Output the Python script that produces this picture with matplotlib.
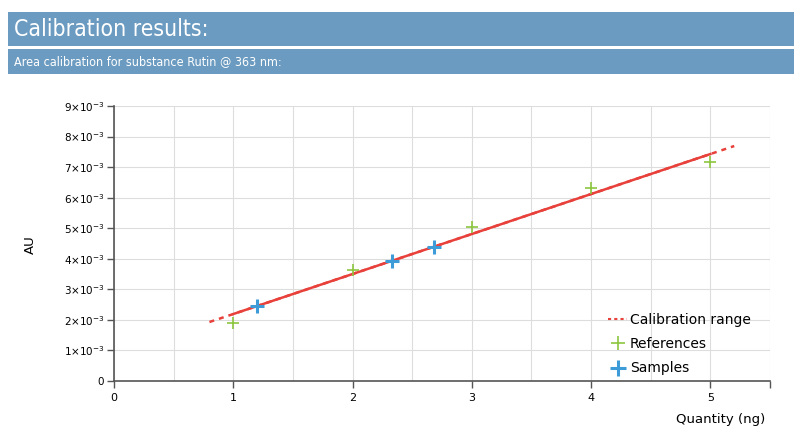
import matplotlib
matplotlib.use("Agg")
import matplotlib.pyplot as plt
from matplotlib.patches import Rectangle
from matplotlib.ticker import MultipleLocator
import numpy as np

# Data
ref_x = [1, 2, 3, 4, 5]
ref_y = [1.90e-3, 3.63e-3, 5.04e-3, 6.32e-3, 7.17e-3]
sample_x = [1.2, 2.33, 2.68]
sample_y = [2.45e-3, 3.93e-3, 4.39e-3]
cal_slope = 1.309e-3
cal_intercept = 0.883e-3
cal_ext = [0.8, 5.2]      # extrapolated range
cal_core = [1.0, 5.0]     # calibration range
y_ticks = [0, 1e-3, 2e-3, 3e-3, 4e-3, 5e-3, 6e-3, 7e-3, 8e-3, 9e-3]
y_labels = ["0"] + [f"{i}×10$^{{-3}}$" for i in range(1, 10)]
x_ticks = [0, 1, 2, 3, 4, 5]

W, H = 794, 430
fig = plt.figure(figsize=(W/100, H/100), dpi=100)
plt.rcParams['font.family'] = ['DejaVu Sans']

hdr = "#6b9bc0"
fig.patches.append(Rectangle((8/W, 1 - 46/H), 1 - 8/W, 34/H, transform=fig.transFigure,
                             facecolor=hdr, edgecolor='none', zorder=0))
fig.patches.append(Rectangle((8/W, 1 - 74/H), 1 - 8/W, 25/H, transform=fig.transFigure,
                             facecolor=hdr, edgecolor='none', zorder=0))
fig.text(14/W, 1 - 30/H, "Calibration results:", color='white', fontsize=16.5,
         fontstretch='condensed', va='center')
fig.text(14/W, 1 - 62/H, "Area calibration for substance Rutin @ 363 nm:", color='white',
         fontsize=9, fontstretch='condensed', va='center')

ax = fig.add_axes([114/W, 1 - 381/H, (770-114)/W, (381-106)/H])
ax.set_xlim(0, 5.5)
ax.set_ylim(0, 9e-3)

ax.xaxis.set_minor_locator(MultipleLocator(0.5))
ax.grid(True, which='both', axis='x', color='#dddddd', lw=0.8)
ax.grid(True, which='major', axis='y', color='#dddddd', lw=0.8)
ax.set_axisbelow(True)

xe = np.array(cal_ext)
ax.plot(xe, cal_intercept + cal_slope*xe, color='#e8403a', lw=1.8, ls=(0, (2, 2)), zorder=3)
xc = np.array(cal_core)
ax.plot(xc, cal_intercept + cal_slope*xc, color='#e8403a', lw=1.8, zorder=3)
ax.plot([], [], color='#e8403a', lw=1.5, ls=(0, (1.5, 1.5)), label='Calibration range')

ax.plot(ref_x, ref_y, ls='none', marker='+', ms=9, mew=1.2, color='#8cc63f', label='References', zorder=4)
ax.plot(sample_x, sample_y, ls='none', marker='+', ms=10, mew=2.2, color='#3d9bd8', label='Samples', zorder=5)

ax.set_yticks(y_ticks)
ax.set_yticklabels(y_labels, fontsize=7.5)
ax.set_xticks(x_ticks + [5.5])
ax.set_xticklabels([str(v) for v in x_ticks] + [""], fontsize=8)
ax.tick_params(axis='x', which='minor', length=0)
ax.tick_params(axis='both', which='major', length=5, color='#555555', width=1)
ax.tick_params(axis='y', pad=2)
for s in ['top', 'right']:
    ax.spines[s].set_visible(False)
for s in ['left', 'bottom']:
    ax.spines[s].set_color('#555555')
    ax.spines[s].set_linewidth(1.2)

fig.text(30/W, 1 - 245/H, "AU", rotation=90, fontsize=9.5, va='center', ha='center')
fig.text(765/W, 1 - 420/H, "Quantity (ng)", fontsize=9.5, va='center', ha='right')

leg = ax.legend(loc='lower right', bbox_to_anchor=(0.99, -0.025), frameon=False, fontsize=10,
                handlelength=1.4, handletextpad=0.2, labelspacing=0.75, markerscale=1.1)

fig.savefig("out.png", dpi=100)
